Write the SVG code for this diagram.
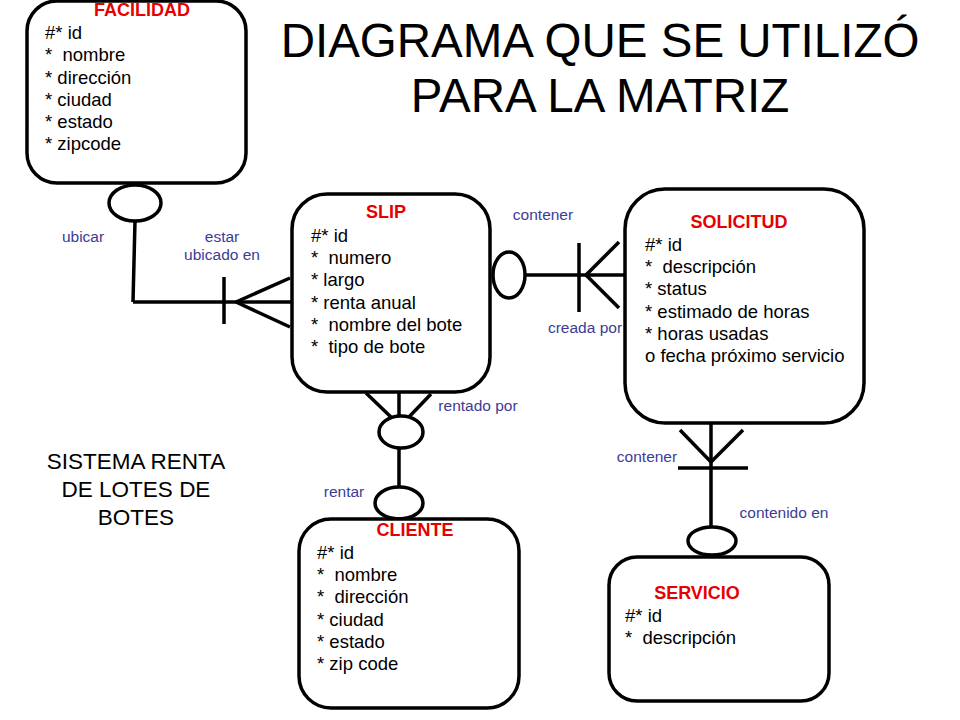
<svg xmlns="http://www.w3.org/2000/svg" width="960" height="720" viewBox="0 0 960 720">
<style>
.box{fill:#fff;stroke:#000;stroke-width:3.5}
.ln{fill:none;stroke:#000;stroke-width:3.5}
.ell{fill:#fff;stroke:#000;stroke-width:3.5}
.ttl{font-family:"Liberation Sans",Arial,sans-serif;font-weight:bold;font-size:18px;fill:#e60000;text-anchor:middle}
.att{font-family:"Liberation Sans",Arial,sans-serif;font-size:18.5px;fill:#000;white-space:pre}
.lbl{font-family:"Liberation Sans",Arial,sans-serif;font-size:15.5px;fill:#3c3c96;text-anchor:middle}
.big{font-family:"Liberation Sans",Arial,sans-serif;fill:#000;text-anchor:middle}
</style>
<rect width="960" height="720" fill="#fff"/>
<g id="title">
<text class="big" x="600" y="57" font-size="47.5">DIAGRAMA QUE SE UTILIZÓ</text>
<text class="big" x="600" y="112" font-size="47.5">PARA LA MATRIZ</text>
</g>
<g id="subtitle">
<text class="big" x="136" y="469" font-size="22.5">SISTEMA RENTA</text>
<text class="big" x="136" y="497" font-size="22.5">DE LOTES DE</text>
<text class="big" x="136" y="525" font-size="22.5">BOTES</text>
</g>
<g id="connectors">
<!-- FACILIDAD - SLIP -->
<line class="ln" x1="135" y1="221" x2="133" y2="302"/>
<line class="ln" x1="133" y1="302" x2="292" y2="302"/>
<line class="ln" x1="224" y1="277" x2="224" y2="324"/>
<line class="ln" x1="236" y1="302" x2="290" y2="278"/>
<line class="ln" x1="236" y1="302" x2="290" y2="327"/>
<ellipse class="ell" cx="135" cy="203" rx="26" ry="18"/>
<!-- SLIP - SOLICITUD -->
<line class="ln" x1="525" y1="275" x2="625" y2="275"/>
<line class="ln" x1="579" y1="243" x2="579" y2="312"/>
<line class="ln" x1="586" y1="275" x2="619" y2="242"/>
<line class="ln" x1="586" y1="275" x2="619" y2="308"/>
<ellipse class="ell" cx="509" cy="275" rx="16" ry="23"/>
<!-- SLIP - CLIENTE -->
<line class="ln" x1="399" y1="392" x2="399" y2="488"/>
<line class="ln" x1="366" y1="393" x2="392" y2="418"/>
<line class="ln" x1="431" y1="394" x2="408" y2="418"/>
<ellipse class="ell" cx="401" cy="432" rx="22" ry="16"/>
<ellipse class="ell" cx="399" cy="503" rx="24" ry="16"/>
<!-- SOLICITUD - SERVICIO -->
<line class="ln" x1="711" y1="423" x2="711" y2="527"/>
<line class="ln" x1="711" y1="462" x2="680" y2="430"/>
<line class="ln" x1="711" y1="462" x2="743" y2="430"/>
<line class="ln" x1="678" y1="468" x2="748" y2="468"/>
<ellipse class="ell" cx="712" cy="541" rx="24" ry="14"/>
<!-- labels -->
<text class="lbl" x="83" y="242">ubicar</text>
<text class="lbl" x="222" y="242">estar</text>
<text class="lbl" x="222" y="260">ubicado en</text>
<text class="lbl" x="543" y="220">contener</text>
<text class="lbl" x="585" y="333">creada por</text>
<text class="lbl" x="478" y="411">rentado por</text>
<text class="lbl" x="344" y="497">rentar</text>
<text class="lbl" x="647" y="462">contener</text>
<text class="lbl" x="784" y="518">contenido en</text>
</g>
<g id="facilidad">
<rect class="box" x="27" y="1" width="219" height="182" rx="30"/>
<text class="ttl" x="142" y="16">FACILIDAD</text>
<text class="att" x="45" y="39">#* id</text>
<text class="att" x="45" y="61">*  nombre</text>
<text class="att" x="45" y="84">* dirección</text>
<text class="att" x="45" y="106">* ciudad</text>
<text class="att" x="45" y="128">* estado</text>
<text class="att" x="45" y="150">* zipcode</text>
</g>
<g id="slip">
<rect class="box" x="292" y="194" width="198" height="198" rx="35"/>
<text class="ttl" x="386" y="218">SLIP</text>
<text class="att" x="311" y="242">#* id</text>
<text class="att" x="311" y="264">*  numero</text>
<text class="att" x="311" y="286">* largo</text>
<text class="att" x="311" y="309">* renta anual</text>
<text class="att" x="311" y="331">*  nombre del bote</text>
<text class="att" x="311" y="353">*  tipo de bote</text>
</g>
<g id="solicitud">
<rect class="box" x="625" y="189" width="239" height="234" rx="40"/>
<text class="ttl" x="739" y="228">SOLICITUD</text>
<text class="att" x="645" y="251">#* id</text>
<text class="att" x="645" y="273">*  descripción</text>
<text class="att" x="645" y="295">* status</text>
<text class="att" x="645" y="318">* estimado de horas</text>
<text class="att" x="645" y="340">* horas usadas</text>
<text class="att" x="645" y="362">o fecha próximo servicio</text>
</g>
<g id="cliente">
<rect class="box" x="299" y="519" width="220" height="189" rx="32"/>
<text class="ttl" x="415" y="536">CLIENTE</text>
<text class="att" x="317" y="559">#* id</text>
<text class="att" x="317" y="581">*  nombre</text>
<text class="att" x="317" y="603">*  dirección</text>
<text class="att" x="317" y="626">* ciudad</text>
<text class="att" x="317" y="648">* estado</text>
<text class="att" x="317" y="670">* zip code</text>
</g>
<g id="servicio">
<rect class="box" x="609" y="557" width="220" height="144" rx="28"/>
<text class="ttl" x="697" y="599">SERVICIO</text>
<text class="att" x="625" y="622">#* id</text>
<text class="att" x="625" y="644">*  descripción</text>
</g>
</svg>
